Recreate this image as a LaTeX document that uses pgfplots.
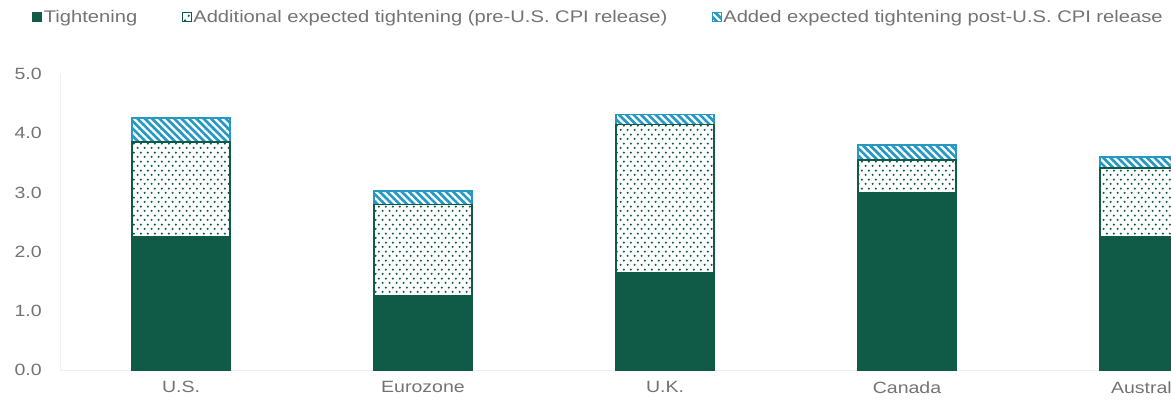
\documentclass[border=0pt]{standalone}
\usepackage{fontspec}
\setmainfont[FakeStretch=1.2]{Liberation Sans}
\newfontfamily\legfont[FakeStretch=1.2]{Liberation Sans}
\usepackage{pgfplots}
\pgfplotsset{compat=1.18}
\usetikzlibrary{patterns.meta}

\definecolor{dkgreen}{RGB}{15,91,72}
\definecolor{hblue}{RGB}{38,152,196}
\definecolor{txt}{RGB}{115,115,115}

\tikzdeclarepattern{
  name=stagdots,
  type=uncolored,
  bounding box={(0pt,0pt) and (5.4pt,6.9pt)},
  tile size={(5.4pt,6.9pt)},
  code={
    \fill (1.35pt,1.725pt) circle (0.95pt);
    \fill (4.05pt,5.175pt) circle (0.95pt);
  }
}

\begin{document}
\begin{tikzpicture}
\useasboundingbox (-45pt,-25.5pt) rectangle (833.25pt,277.5pt);
\clip (-45pt,-25.5pt) rectangle (833.25pt,277.5pt);
\begin{axis}[
  at={(0pt,0pt)}, anchor=south west,
  scale only axis, width=907.5pt, height=222pt,
  xmin=-0.5, xmax=4.5, ymin=0, ymax=5,
  ybar stacked, bar width=73.5pt,
  xtick={0,1,2,3,4},
  xticklabels={U.S.,Eurozone,U.K.,Canada,Australia},
  ytick={0,1,2,3,4,5},
  /pgf/number format/fixed, /pgf/number format/fixed zerofill,
  /pgf/number format/precision=1, /pgf/number format/assume math mode=true,
  tick style={draw=none},
  axis lines*=left,
  axis line style={draw=gray!12},
  tick label style={font=\fontsize{12.2pt}{14pt}\selectfont, text=txt, inner sep=0pt},
  yticklabel style={xshift=-13.5pt},
  xticklabel style={yshift=-8.5pt},
  legend style={at={(-0.0265,1.1926)}, anchor=west, draw=none, fill=none,
    font=\legfont\fontsize{12.6pt}{14pt}\selectfont, text=txt,
    nodes={inner sep=1.2pt},
    /tikz/every even column/.append style={column sep=32pt}},
  legend columns=3,
  legend image code/.code={\draw[#1, line width=0.8pt] (0pt,-3.4pt) rectangle (6.8pt,3.4pt);},
]
\addplot[fill=dkgreen, draw=dkgreen, line width=1pt] coordinates {(0,2.25) (1,1.25) (2,1.65) (3,3.0) (4,2.25)};
\addplot[fill=white, draw=dkgreen, line width=1.1pt, postaction={pattern=stagdots, pattern color=dkgreen}] coordinates {(0,1.6) (1,1.55) (2,2.5) (3,0.55) (4,1.16)};
\addplot[fill=hblue, draw=hblue, line width=1.1pt, postaction={pattern={Lines[angle=-45,distance=3.9pt,line width=1.7pt]}, pattern color=white}] coordinates {(0,0.41) (1,0.22) (2,0.17) (3,0.25) (4,0.19)};
\legend{Tightening, Additional expected tightening (pre-U.S. CPI release), Added expected tightening post-U.S. CPI release}
\end{axis}
\end{tikzpicture}
\end{document}
